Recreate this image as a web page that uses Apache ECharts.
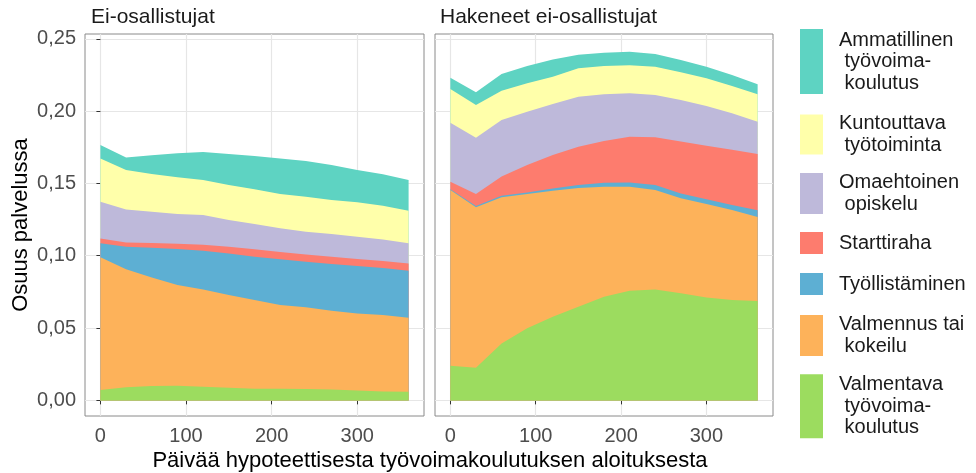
<!DOCTYPE html>
<html>
<head>
<meta charset="utf-8">
<script src="https://cdn.jsdelivr.net/npm/echarts@6/dist/echarts.min.js"></script>
<style>
  html, body { margin: 0; padding: 0; background: #fff; }
  #chart { width: 976px; height: 473px; }
</style>
</head>
<body>
<div id="chart"></div>
<script>
// päivät koulutuksen aloituksesta
const days = [0, 30, 60, 90, 120, 150, 180, 210, 240, 270, 300, 330, 360];

// pinon järjestys alhaalta ylös
const seriesNames = [
  'Valmentava työvoimakoulutus',
  'Valmennus tai kokeilu',
  'Työllistäminen',
  'Starttiraha',
  'Omaehtoinen opiskelu',
  'Kuntouttava työtoiminta',
  'Ammatillinen työvoimakoulutus'
];
const legendLabels = [
  'Valmentava\n työvoima-\n koulutus',
  'Valmennus tai\n kokeilu',
  'Työllistäminen',
  'Starttiraha',
  'Omaehtoinen\n opiskelu',
  'Kuntouttava\n työtoiminta',
  'Ammatillinen\n työvoima-\n koulutus'
];
const colors = ['#9CDC5F', '#FDB25A', '#5DAFD3', '#FD7C6E', '#BEB9DA', '#FFFFAA', '#5ED3C2'];
const panelTitles = ['Ei-osallistujat', 'Hakeneet ei-osallistujat'];

const xTicks = [0, 100, 200, 300];
const yTicks = [0, 0.05, 0.10, 0.15, 0.20, 0.25];

// Ei-osallistujat
const eiValmentava   = [0.0071, 0.0090, 0.0099, 0.0101, 0.0094, 0.0087, 0.0080, 0.0080, 0.0078, 0.0076, 0.0069, 0.0062, 0.0060];
const eiValmennus    = [0.0918, 0.0816, 0.0751, 0.0696, 0.0673, 0.0641, 0.0614, 0.0579, 0.0565, 0.0544, 0.0532, 0.0528, 0.0511];
const eiTyollist     = [0.0097, 0.0156, 0.0206, 0.0249, 0.0268, 0.0288, 0.0299, 0.0316, 0.0316, 0.0323, 0.0328, 0.0325, 0.0325];
const eiStartti      = [0.0034, 0.0030, 0.0032, 0.0037, 0.0041, 0.0046, 0.0051, 0.0051, 0.0050, 0.0050, 0.0048, 0.0048, 0.0051];
const eiOmaehtoinen  = [0.0253, 0.0228, 0.0216, 0.0205, 0.0205, 0.0185, 0.0175, 0.0164, 0.0157, 0.0157, 0.0154, 0.0150, 0.0139];
const eiKuntouttava  = [0.0300, 0.0273, 0.0261, 0.0254, 0.0243, 0.0242, 0.0240, 0.0237, 0.0242, 0.0235, 0.0238, 0.0233, 0.0225];
const eiAmmatillinen = [0.0093, 0.0087, 0.0129, 0.0166, 0.0193, 0.0214, 0.0231, 0.0246, 0.0247, 0.0242, 0.0224, 0.0217, 0.0213];

// Hakeneet ei-osallistujat
const hakValmentava   = [0.0240, 0.0226, 0.0394, 0.0498, 0.0578, 0.0648, 0.0717, 0.0758, 0.0767, 0.0740, 0.0712, 0.0694, 0.0687];
const hakValmennus    = [0.1214, 0.1109, 0.1010, 0.0929, 0.0872, 0.0820, 0.0760, 0.0719, 0.0687, 0.0657, 0.0646, 0.0622, 0.0581];
const hakTyollist     = [0.0005, 0.0009, 0.0011, 0.0011, 0.0014, 0.0021, 0.0028, 0.0030, 0.0035, 0.0034, 0.0032, 0.0035, 0.0046];
const hakStartti      = [0.0053, 0.0083, 0.0132, 0.0189, 0.0232, 0.0265, 0.0288, 0.0316, 0.0330, 0.0358, 0.0371, 0.0382, 0.0389];
const hakOmaehtoinen  = [0.0408, 0.0389, 0.0391, 0.0369, 0.0353, 0.0346, 0.0323, 0.0300, 0.0292, 0.0288, 0.0274, 0.0252, 0.0224];
const hakKuntouttava  = [0.0233, 0.0226, 0.0203, 0.0196, 0.0189, 0.0196, 0.0196, 0.0194, 0.0196, 0.0191, 0.0192, 0.0189, 0.0189];
const hakAmmatillinen = [0.0078, 0.0088, 0.0116, 0.0120, 0.0119, 0.0094, 0.0092, 0.0094, 0.0088, 0.0085, 0.0080, 0.0076, 0.0069];

const panelData = [
  [eiValmentava, eiValmennus, eiTyollist, eiStartti, eiOmaehtoinen, eiKuntouttava, eiAmmatillinen],
  [hakValmentava, hakValmennus, hakTyollist, hakStartti, hakOmaehtoinen, hakKuntouttava, hakAmmatillinen]
];

const myechart = echarts.init(document.getElementById('chart'));
const font = 'Liberation Sans, Arial, sans-serif';

// value-value akseleilla pino lasketaan itse: kumulatiiviset summat
const series = [];
panelData.forEach((arrs, p) => {
  const running = days.map(() => 0);
  const tops = arrs.map(vals => vals.map((v, k) => (running[k] += v)));
  // ylin kerros piirretään ensin, alemmat sen päälle
  for (let i = arrs.length - 1; i >= 0; i--) {
    series.push({
      name: seriesNames[i],
      type: 'line',
      xAxisIndex: p,
      yAxisIndex: p,
      symbol: 'none',
      silent: true,
      lineStyle: { width: 0 },
      areaStyle: { color: colors[i], opacity: 1, origin: 0 },
      itemStyle: { color: colors[i] },
      data: days.map((d, k) => [d, tops[i][k]])
    });
  }
});

// legend: one component per key so that key heights follow the text
const legendTops = [374, 314, 273, 232, 172, 113, 29];
const legendHeights = [64, 41, 22, 22, 41, 40, 65];
const legends = seriesNames.map((name, i) => ({
  data: [name],
  left: 800,
  top: legendTops[i],
  padding: 0,
  icon: 'rect',
  itemWidth: 23,
  itemHeight: legendHeights[i],
  selectedMode: false,
  formatter: () => legendLabels[i],
  textStyle: { fontFamily: font, fontSize: 20, color: '#1a1a1a', lineHeight: 21.5, padding: [0, 0, 0, 11] }
}));

const grids = [
  { left: 85, right: 552, top: 34, bottom: 57 },
  { left: 435, right: 203, top: 34, bottom: 57 }
].map(g => Object.assign(g, { show: true, borderColor: '#8a8a8a', borderWidth: 1, backgroundColor: '#fff' }));

const xAxes = [0, 1].map(p => ({
  type: 'value',
  gridIndex: p,
  min: -18,
  max: 378,
  axisLine: { show: false },
  axisTick: { show: true, length: 4, lineStyle: { color: '#333' }, customValues: xTicks },
  axisLabel: { customValues: xTicks, color: '#4d4d4d', fontSize: 20, fontFamily: font, margin: 10 },
  splitLine: { show: true, lineStyle: { color: '#e6e6e6', width: 1.2 } }
}));

const yAxes = [0, 1].map(p => ({
  type: 'value',
  gridIndex: p,
  min: -0.0108,
  max: 0.2533,
  name: p === 0 ? 'Osuus palvelussa' : '',
  nameLocation: 'middle',
  nameGap: 53,
  nameTextStyle: { fontFamily: font, fontSize: 22, color: '#000' },
  axisLine: { show: false },
  axisTick: { show: p === 0, length: 4, lineStyle: { color: '#333' }, customValues: yTicks },
  axisLabel: {
    show: p === 0,
    customValues: yTicks,
    color: '#4d4d4d',
    fontSize: 20,
    fontFamily: font,
    margin: 9,
    formatter: v => v.toFixed(2).replace('.', ',')
  },
  splitLine: { show: true, lineStyle: { color: '#e6e6e6', width: 1.2 } }
}));

const titleStyle = { fontFamily: font, fontSize: 21, fontWeight: 'normal', color: '#1a1a1a' };
const option = {
  animation: false,
  backgroundColor: '#fff',
  title: [
    { text: panelTitles[0], left: 91, top: 7, padding: 0, textStyle: titleStyle },
    { text: panelTitles[1], left: 440, top: 7, padding: 0, textStyle: titleStyle },
    { text: 'Päivää hypoteettisesta työvoimakoulutuksen aloituksesta', left: 430, textAlign: 'center', top: 450, padding: 0,
      textStyle: { fontFamily: font, fontSize: 22, fontWeight: 'normal', color: '#000' } }
  ],
  legend: legends,
  grid: grids,
  xAxis: xAxes,
  yAxis: yAxes,
  series: series
};
myechart.setOption(option);
</script>
</body>
</html>
